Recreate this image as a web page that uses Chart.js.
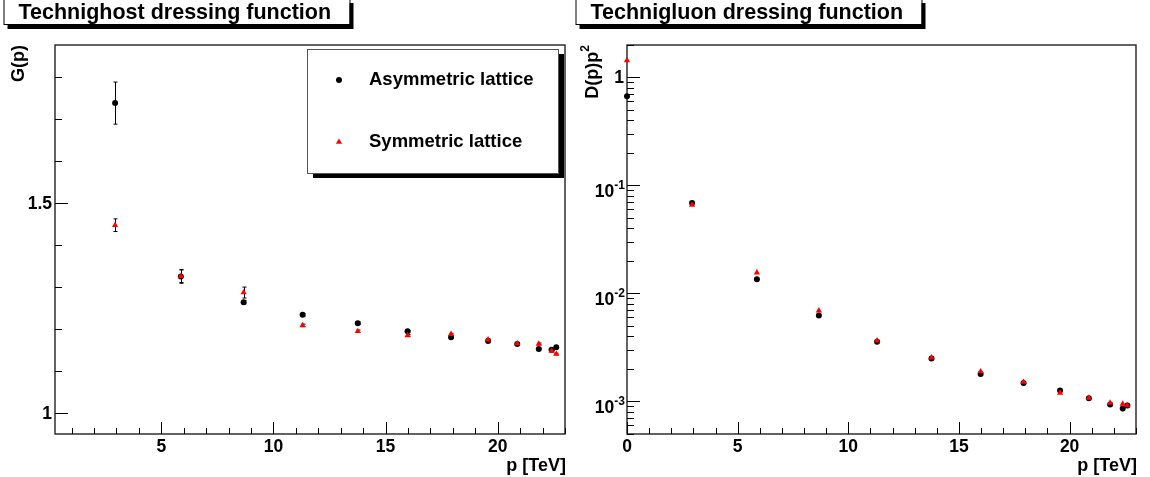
<!doctype html>
<html>
<head>
<meta charset="utf-8">
<title>Technighost and technigluon dressing functions</title>
<script src="https://cdn.jsdelivr.net/npm/chart.js@4"></script>
<style>
  body { margin: 0; background: #fff; width: 1150px; height: 477px; overflow: hidden; position: relative; }
  canvas { position: absolute; top: 0; }
</style>
</head>
<body>
<canvas id="ghost" width="575" height="477" style="left:0"></canvas>
<canvas id="gluon" width="575" height="477" style="left:575px"></canvas>
<script>
// lattice momenta (TeV), same for both plots; the gluon plot also has p = 0
const momenta = [2.94, 5.87, 8.67, 11.3, 13.76, 15.98, 17.92, 19.57, 20.87, 21.83, 22.4, 22.61];
const seriesNames = ['Asymmetric lattice', 'Symmetric lattice'];

// ghost dressing G(p)
const ghostAsym = [1.737, 1.325, 1.264, 1.234, 1.214, 1.195, 1.181, 1.172, 1.1645, 1.153, 1.151, 1.157];
const ghostAsymErr = [0.05, 0.016, 0.004, 0.003, 0.003, 0.002, 0.002, 0.002, 0.002, 0.002, 0.002, 0.002];
const ghostSym = [1.447, 1.326, 1.287, 1.209, 1.195, 1.185, 1.188, 1.175, 1.166, 1.165, 1.148, 1.141];
const ghostSymErr = [0.015, 0.015, 0.013, 0.003, 0.003, 0.002, 0.002, 0.002, 0.002, 0.002, 0.002, 0.002];

// gluon dressing D(p)p^2
const gluonMomenta = [0, ...momenta];
const gluonAsym = [0.67, 0.0686, 0.0135, 0.0062, 0.00355, 0.00248, 0.00178, 0.00147, 0.00125, 0.00106, 0.00093, 0.000855, 0.00091];
const gluonSym = [1.44, 0.0658, 0.0155, 0.0069, 0.00363, 0.00253, 0.00188, 0.0015, 0.00119, 0.00107, 0.00096, 0.00094, 0.00091];

// ticks
const ghostXTicks = [5, 10, 15, 20];
const ghostYTicks = [1, 1.5];
const ghostYLabels = ['1', '1.5'];
const gluonXTicks = [0, 5, 10, 15, 20];
const gluonYTicks = [1, 0.1, 0.01, 0.001];
const gluonYBase = ['1', '10', '10', '10'];
const gluonYSup = ['', '-1', '-2', '-3'];

const FONT = '"Liberation Sans", Arial, Helvetica, sans-serif';
const bold = s => `bold ${s}px ${FONT}`;

const pts = (xs, ys, errs) => xs.map((x, i) => ({ x, y: ys[i], err: errs ? errs[i] : 0 }));

function range(a, b, step) {
  const out = [];
  for (let v = a; v <= b + 1e-9; v += step) out.push(+v.toFixed(6));
  return out;
}

// ROOT-like frame, inward ticks, labels, title box, error bars
const rootStyle = {
  id: 'rootStyle',
  beforeDatasetsDraw(chart, args, o) {
    const { ctx, chartArea: a, scales: { x, y } } = chart;
    ctx.save();

    // title pave with shadow
    ctx.fillStyle = '#000';
    ctx.fillRect(o.boxX + 4, 3, o.boxW, 26);
    ctx.fillStyle = '#fff';
    ctx.fillRect(o.boxX, -2, o.boxW, 27);
    ctx.strokeStyle = '#000';
    ctx.lineWidth = 1;
    ctx.strokeRect(o.boxX + 0.5, -2.5, o.boxW, 27);
    ctx.fillStyle = '#000';
    ctx.font = bold(21.5);
    ctx.textAlign = 'left';
    ctx.textBaseline = 'alphabetic';
    ctx.fillText(o.title, o.boxX + 15, 19);

    // frame
    ctx.strokeStyle = '#222';
    ctx.lineWidth = 1.4;
    ctx.strokeRect(a.left, a.top, a.right - a.left, a.bottom - a.top);

    // ticks
    ctx.strokeStyle = '#000';
    ctx.lineWidth = 1;
    ctx.beginPath();
    for (const v of o.xMinor) {
      const px = Math.round(x.getPixelForValue(v)) + 0.5;
      const len = o.xTicks.includes(v) ? 12 : 6;
      ctx.moveTo(px, a.bottom);
      ctx.lineTo(px, a.bottom - len);
    }
    for (const v of o.yMinor) {
      const py = Math.round(y.getPixelForValue(v)) + 0.5;
      const len = o.yTicks.some(t => Math.abs(t - v) < 1e-9) ? 13 : 7;
      ctx.moveTo(a.left, py);
      ctx.lineTo(a.left + len, py);
    }
    ctx.stroke();

    // x labels
    ctx.fillStyle = '#000';
    ctx.font = bold(17.5);
    ctx.textAlign = 'center';
    o.xTicks.forEach((v, i) => ctx.fillText(String(v), x.getPixelForValue(v), a.bottom + 18));

    // y labels
    ctx.textAlign = 'right';
    o.yTicks.forEach((v, i) => {
      const py = y.getPixelForValue(v);
      const sup = o.ySup ? o.ySup[i] : '';
      if (!sup) {
        ctx.font = bold(17.5);
        ctx.fillText(o.yLabels[i], a.left - 3, py + 6);
        return;
      }
      ctx.font = bold(12);
      const sw = ctx.measureText(sup).width;
      ctx.textAlign = 'left';
      ctx.fillText(sup, a.left - 2 - sw, py + 4);
      ctx.textAlign = 'right';
      ctx.font = bold(17.5);
      ctx.fillText(o.yLabels[i], a.left - 2 - sw, py + 12);
    });

    // x title
    ctx.font = bold(18);
    ctx.textAlign = 'right';
    ctx.fillText(o.xTitle, a.right + 1, a.bottom + 37);

    // y title, rotated, ending at the top of the frame
    ctx.save();
    ctx.translate(o.yTitleX, a.top);
    ctx.rotate(-Math.PI / 2);
    ctx.font = bold(12);
    const supW = o.yTitleSup ? ctx.measureText(o.yTitleSup).width : 0;
    if (o.yTitleSup) {
      ctx.textAlign = 'right';
      ctx.fillText(o.yTitleSup, 0, -9);
    }
    ctx.font = bold(18);
    ctx.textAlign = 'right';
    ctx.fillText(o.yTitle, -supW, 0);
    ctx.restore();

    // error bars
    ctx.strokeStyle = '#000';
    ctx.lineWidth = 1;
    chart.data.datasets.forEach((ds, di) => {
      const meta = chart.getDatasetMeta(di);
      ds.data.forEach((p, i) => {
        if (!p.err) return;
        const px = Math.round(meta.data[i].x) + 0.5;
        const y1 = y.getPixelForValue(p.y + p.err);
        const y2 = y.getPixelForValue(p.y - p.err);
        ctx.beginPath();
        ctx.moveTo(px, y1); ctx.lineTo(px, y2);
        ctx.moveTo(px - 2, y1); ctx.lineTo(px + 2, y1);
        ctx.moveTo(px - 2, y2); ctx.lineTo(px + 2, y2);
        ctx.stroke();
      });
    });
    ctx.restore();
  },
  afterDatasetsDraw(chart, args, o) {
    if (!o.legend) return;
    const { ctx } = chart;
    const L = o.legend;
    ctx.save();
    ctx.fillStyle = '#000';
    ctx.fillRect(L.x + 6, L.y + 5, L.w, L.h);
    ctx.fillStyle = '#fff';
    ctx.fillRect(L.x, L.y, L.w, L.h);
    ctx.strokeStyle = '#555';
    ctx.lineWidth = 1;
    ctx.strokeRect(L.x + 0.5, L.y + 0.5, L.w, L.h);
    ctx.font = bold(18.5);
    ctx.textAlign = 'left';
    ctx.textBaseline = 'middle';
    chart.data.datasets.forEach((ds, i) => {
      const cy = L.y + 31 + i * 62;
      ctx.fillStyle = ds.backgroundColor;
      Chart.helpers.drawPoint(ctx, { pointStyle: ds.pointStyle, radius: ds.pointRadius, rotation: 0, borderWidth: 0 }, L.x + 32, cy);
      ctx.fillStyle = '#000';
      ctx.fillText(ds.label, L.x + 62, cy);
    });
    ctx.restore();
  }
};

function makeChart(id, datasets, scales, padding, style) {
  return new Chart(document.getElementById(id), {
    type: 'scatter',
    data: { datasets },
    options: {
      responsive: false,
      animation: false,
      events: [],
      layout: { padding, autoPadding: false },
      scales,
      plugins: { legend: { display: false }, tooltip: { enabled: false }, rootStyle: style }
    },
    plugins: [rootStyle]
  });
}

const asymStyle = { label: seriesNames[0], pointStyle: 'circle', pointRadius: 3, backgroundColor: '#000', borderWidth: 0, order: 2, clip: false };
const symStyle = { label: seriesNames[1], pointStyle: 'triangle', pointRadius: 3.6, backgroundColor: '#ff0000', borderWidth: 0, order: 1, clip: false };

makeChart('ghost', [
  { ...asymStyle, data: pts(momenta, ghostAsym, ghostAsymErr) },
  { ...symStyle, data: pts(momenta, ghostSym, ghostSymErr) }
], {
  x: { type: 'linear', min: 0.26, max: 23, display: false },
  y: { type: 'linear', min: 0.951, max: 1.875, display: false }
}, { left: 55, right: 10, top: 45, bottom: 43 }, {
  title: 'Technighost dressing function', boxX: 3.5, boxW: 346,
  xTicks: ghostXTicks, xMinor: range(1, 23, 1),
  yTicks: ghostYTicks, yLabels: ghostYLabels, yMinor: range(1, 1.8, 0.1),
  xTitle: 'p [TeV]', yTitle: 'G(p)', yTitleX: 24,
  legend: { x: 307, y: 49, w: 251, h: 124 }
});

const gluonMinor = [];
[0.0001, 0.001, 0.01, 0.1, 1].forEach(d => { for (let k = 1; k <= 9; k++) { const v = +(k * d).toPrecision(3); if (v >= 4.95e-4 && v <= 2) gluonMinor.push(v); } });

makeChart('gluon', [
  { ...asymStyle, data: pts(gluonMomenta, gluonAsym) },
  { ...symStyle, data: pts(gluonMomenta, gluonSym) }
], {
  x: { type: 'linear', min: 0, max: 23, display: false },
  y: { type: 'logarithmic', min: 4.95e-4, max: 2.0, display: false }
}, { left: 52, right: 14, top: 45, bottom: 43 }, {
  title: 'Technigluon dressing function', boxX: 0.5, boxW: 346,
  xTicks: gluonXTicks, xMinor: range(0, 23, 1),
  yTicks: gluonYTicks, yLabels: gluonYBase, ySup: gluonYSup, yMinor: gluonMinor,
  xTitle: 'p [TeV]', yTitle: 'D(p)p', yTitleSup: '2', yTitleX: 23,
  legend: null
});
</script>
</body>
</html>
